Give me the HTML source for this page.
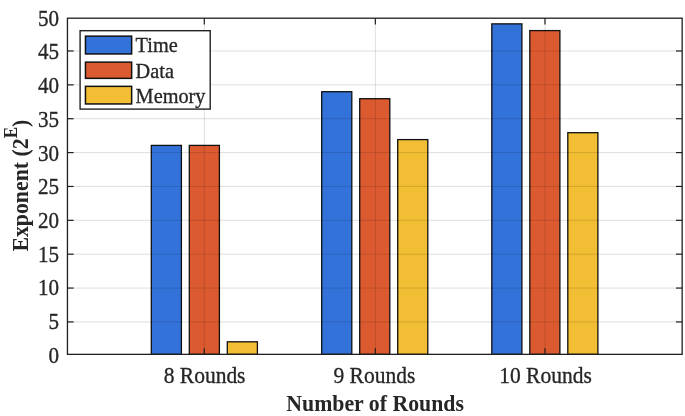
<!DOCTYPE html>
<html><head><meta charset="utf-8"><title>Chart</title>
<style>html,body{margin:0;padding:0;background:#fff;}svg{display:block;}text{font-family:"Liberation Serif","Times New Roman",serif;fill:#262626;}</style></head><body>
<svg width="685" height="416" viewBox="0 0 685 416">
<rect x="0" y="0" width="685" height="416" fill="#ffffff"/>
<rect x="151.30" y="145.40" width="30.10" height="208.95" fill="#3372d9" stroke="#111" stroke-width="1.3"/>
<rect x="189.30" y="145.40" width="30.10" height="208.95" fill="#dc5a30" stroke="#111" stroke-width="1.3"/>
<rect x="227.30" y="341.80" width="30.10" height="12.55" fill="#f2be33" stroke="#111" stroke-width="1.3"/>
<rect x="321.70" y="91.70" width="30.10" height="262.65" fill="#3372d9" stroke="#111" stroke-width="1.3"/>
<rect x="359.70" y="98.70" width="30.10" height="255.65" fill="#dc5a30" stroke="#111" stroke-width="1.3"/>
<rect x="397.70" y="139.60" width="30.10" height="214.75" fill="#f2be33" stroke="#111" stroke-width="1.3"/>
<rect x="491.80" y="23.86" width="30.10" height="330.49" fill="#3372d9" stroke="#111" stroke-width="1.3"/>
<rect x="529.80" y="30.60" width="30.10" height="323.75" fill="#dc5a30" stroke="#111" stroke-width="1.3"/>
<rect x="567.80" y="132.70" width="30.10" height="221.65" fill="#f2be33" stroke="#111" stroke-width="1.3"/>
<line x1="67.45" x2="682.15" y1="321.93" y2="321.93" stroke="#000" stroke-opacity="0.13" stroke-width="1"/>
<line x1="67.45" x2="682.15" y1="288.06" y2="288.06" stroke="#000" stroke-opacity="0.13" stroke-width="1"/>
<line x1="67.45" x2="682.15" y1="254.19" y2="254.19" stroke="#000" stroke-opacity="0.13" stroke-width="1"/>
<line x1="67.45" x2="682.15" y1="220.32" y2="220.32" stroke="#000" stroke-opacity="0.13" stroke-width="1"/>
<line x1="67.45" x2="682.15" y1="186.45" y2="186.45" stroke="#000" stroke-opacity="0.13" stroke-width="1"/>
<line x1="67.45" x2="682.15" y1="152.58" y2="152.58" stroke="#000" stroke-opacity="0.13" stroke-width="1"/>
<line x1="67.45" x2="682.15" y1="118.71" y2="118.71" stroke="#000" stroke-opacity="0.13" stroke-width="1"/>
<line x1="67.45" x2="682.15" y1="84.84" y2="84.84" stroke="#000" stroke-opacity="0.13" stroke-width="1"/>
<line x1="67.45" x2="682.15" y1="50.97" y2="50.97" stroke="#000" stroke-opacity="0.13" stroke-width="1"/>
<line x1="204.3" x2="204.3" y1="18.2" y2="354.35" stroke="#000" stroke-opacity="0.13" stroke-width="1"/>
<line x1="375.35" x2="375.35" y1="18.2" y2="354.35" stroke="#000" stroke-opacity="0.13" stroke-width="1"/>
<line x1="545.0" x2="545.0" y1="18.2" y2="354.35" stroke="#000" stroke-opacity="0.13" stroke-width="1"/>
<line x1="67.45" x2="73.65" y1="321.93" y2="321.93" stroke="#1f1f1f" stroke-width="1.2"/>
<line x1="682.15" x2="675.9499999999999" y1="321.93" y2="321.93" stroke="#1f1f1f" stroke-width="1.2"/>
<line x1="67.45" x2="73.65" y1="288.06" y2="288.06" stroke="#1f1f1f" stroke-width="1.2"/>
<line x1="682.15" x2="675.9499999999999" y1="288.06" y2="288.06" stroke="#1f1f1f" stroke-width="1.2"/>
<line x1="67.45" x2="73.65" y1="254.19" y2="254.19" stroke="#1f1f1f" stroke-width="1.2"/>
<line x1="682.15" x2="675.9499999999999" y1="254.19" y2="254.19" stroke="#1f1f1f" stroke-width="1.2"/>
<line x1="67.45" x2="73.65" y1="220.32" y2="220.32" stroke="#1f1f1f" stroke-width="1.2"/>
<line x1="682.15" x2="675.9499999999999" y1="220.32" y2="220.32" stroke="#1f1f1f" stroke-width="1.2"/>
<line x1="67.45" x2="73.65" y1="186.45" y2="186.45" stroke="#1f1f1f" stroke-width="1.2"/>
<line x1="682.15" x2="675.9499999999999" y1="186.45" y2="186.45" stroke="#1f1f1f" stroke-width="1.2"/>
<line x1="67.45" x2="73.65" y1="152.58" y2="152.58" stroke="#1f1f1f" stroke-width="1.2"/>
<line x1="682.15" x2="675.9499999999999" y1="152.58" y2="152.58" stroke="#1f1f1f" stroke-width="1.2"/>
<line x1="67.45" x2="73.65" y1="118.71" y2="118.71" stroke="#1f1f1f" stroke-width="1.2"/>
<line x1="682.15" x2="675.9499999999999" y1="118.71" y2="118.71" stroke="#1f1f1f" stroke-width="1.2"/>
<line x1="67.45" x2="73.65" y1="84.84" y2="84.84" stroke="#1f1f1f" stroke-width="1.2"/>
<line x1="682.15" x2="675.9499999999999" y1="84.84" y2="84.84" stroke="#1f1f1f" stroke-width="1.2"/>
<line x1="67.45" x2="73.65" y1="50.97" y2="50.97" stroke="#1f1f1f" stroke-width="1.2"/>
<line x1="682.15" x2="675.9499999999999" y1="50.97" y2="50.97" stroke="#1f1f1f" stroke-width="1.2"/>
<line x1="204.3" x2="204.3" y1="354.35" y2="348.15000000000003" stroke="#1f1f1f" stroke-width="1.2"/>
<line x1="204.3" x2="204.3" y1="18.2" y2="24.4" stroke="#1f1f1f" stroke-width="1.2"/>
<line x1="375.35" x2="375.35" y1="354.35" y2="348.15000000000003" stroke="#1f1f1f" stroke-width="1.2"/>
<line x1="375.35" x2="375.35" y1="18.2" y2="24.4" stroke="#1f1f1f" stroke-width="1.2"/>
<line x1="545.0" x2="545.0" y1="354.35" y2="348.15000000000003" stroke="#1f1f1f" stroke-width="1.2"/>
<line x1="545.0" x2="545.0" y1="18.2" y2="24.4" stroke="#1f1f1f" stroke-width="1.2"/>
<rect x="67.45" y="18.2" width="614.6999999999999" height="336.15000000000003" fill="none" stroke="#1f1f1f" stroke-width="1.3"/>
<text transform="translate(59.1,362.70) scale(1,1.08)" font-size="21.1" stroke="#262626" stroke-width="0.3" text-anchor="end">0</text>
<text transform="translate(59.1,329.01) scale(1,1.08)" font-size="21.1" stroke="#262626" stroke-width="0.3" text-anchor="end">5</text>
<text transform="translate(59.1,295.32) scale(1,1.08)" font-size="21.1" stroke="#262626" stroke-width="0.3" text-anchor="end">10</text>
<text transform="translate(59.1,261.63) scale(1,1.08)" font-size="21.1" stroke="#262626" stroke-width="0.3" text-anchor="end">15</text>
<text transform="translate(59.1,227.94) scale(1,1.08)" font-size="21.1" stroke="#262626" stroke-width="0.3" text-anchor="end">20</text>
<text transform="translate(59.1,194.25) scale(1,1.08)" font-size="21.1" stroke="#262626" stroke-width="0.3" text-anchor="end">25</text>
<text transform="translate(59.1,160.56) scale(1,1.08)" font-size="21.1" stroke="#262626" stroke-width="0.3" text-anchor="end">30</text>
<text transform="translate(59.1,126.87) scale(1,1.08)" font-size="21.1" stroke="#262626" stroke-width="0.3" text-anchor="end">35</text>
<text transform="translate(59.1,93.18) scale(1,1.08)" font-size="21.1" stroke="#262626" stroke-width="0.3" text-anchor="end">40</text>
<text transform="translate(59.1,59.49) scale(1,1.08)" font-size="21.1" stroke="#262626" stroke-width="0.3" text-anchor="end">45</text>
<text transform="translate(59.1,25.80) scale(1,1.08)" font-size="21.1" stroke="#262626" stroke-width="0.3" text-anchor="end">50</text>
<text transform="translate(204.6,383.0) scale(1,1.06)" font-size="21.5" stroke="#262626" stroke-width="0.3" text-anchor="middle">8 Rounds</text>
<text transform="translate(374.4,383.0) scale(1,1.06)" font-size="21.5" stroke="#262626" stroke-width="0.3" text-anchor="middle">9 Rounds</text>
<text transform="translate(545.5,383.0) scale(1,1.06)" font-size="21.5" stroke="#262626" stroke-width="0.3" text-anchor="middle">10 Rounds</text>
<text transform="translate(375.1,410.9) scale(1,1.03)" font-size="21.8" font-weight="bold" text-anchor="middle" fill="#111">Number of Rounds</text>
<text transform="translate(28,185.6) rotate(-90) scale(1,1.04)" font-size="21.8" font-weight="bold" text-anchor="middle" fill="#111">Exponent (2<tspan font-size="17.2" dy="-10.5">E</tspan><tspan dy="10.5">)</tspan></text>
<rect x="80.1" y="30.7" width="130.1" height="78.4" fill="#fff" stroke="#222" stroke-width="1.4"/>
<rect x="85.45" y="36.15" width="46.2" height="17.80" fill="#3372d9" stroke="#111" stroke-width="1.5"/>
<text transform="translate(135.6,52.2) scale(1,1.05)" font-size="20.3" stroke="#262626" stroke-width="0.3">Time</text>
<rect x="85.45" y="62.15" width="46.2" height="16.20" fill="#dc5a30" stroke="#111" stroke-width="1.5"/>
<text transform="translate(135.6,77.7) scale(1,1.05)" font-size="20.3" stroke="#262626" stroke-width="0.3">Data</text>
<rect x="85.45" y="86.35" width="46.2" height="17.60" fill="#f2be33" stroke="#111" stroke-width="1.5"/>
<text transform="translate(135.6,103.1) scale(1,1.05)" font-size="20.3" stroke="#262626" stroke-width="0.3">Memory</text>
</svg></body></html>
